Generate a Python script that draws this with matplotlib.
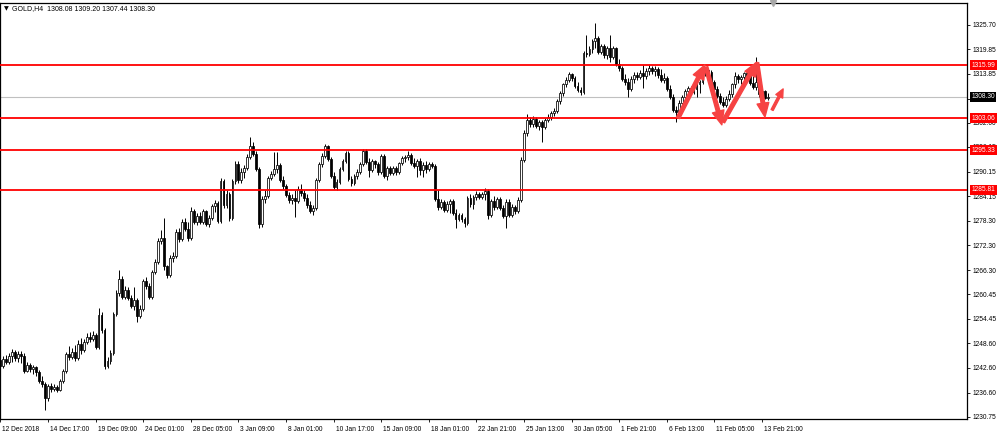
import numpy as np
import matplotlib
matplotlib.use('Agg')
import matplotlib.pyplot as plt
import matplotlib.transforms as mtransforms
from matplotlib.patches import FancyArrowPatch

# GOLD H4 candles (one line = 16 bars = one date label)
opens = [
    1244.5, 1243.0, 1244.7, 1244.0, 1245.5, 1246.4, 1245.0, 1245.9, 1245.5, 1241.8, 1243.3, 1242.3, 1242.8, 1241.6, 1239.4, 1238.7,
    1235.3, 1238.2, 1237.5, 1238.0, 1237.2, 1239.4, 1241.8, 1245.9, 1245.2, 1246.4, 1245.0, 1248.4, 1246.9, 1248.9, 1250.1, 1249.6,
    1250.5, 1247.6, 1255.4, 1251.8, 1243.0, 1244.2, 1246.2, 1255.6, 1260.7, 1264.1, 1259.8, 1261.5, 1259.5, 1257.6, 1259.0, 1255.2,
    1256.9, 1263.6, 1262.4, 1259.8, 1265.8, 1268.3, 1273.3, 1274.1, 1267.3, 1265.1, 1269.2, 1269.7, 1275.5, 1273.8, 1277.9, 1276.2,
    1274.1, 1280.6, 1277.9, 1279.4, 1277.9, 1280.6, 1277.5, 1278.9, 1281.8, 1282.5, 1278.2, 1287.9, 1282.1, 1284.7, 1278.9, 1287.9,
    1292.0, 1288.1, 1290.1, 1291.0, 1293.7, 1296.4, 1294.4, 1290.8, 1277.5, 1283.5, 1284.2, 1288.6, 1289.6, 1290.8, 1291.8, 1288.1,
    1286.7, 1284.5, 1283.3, 1283.8, 1283.0, 1285.9, 1285.0, 1283.8, 1282.1, 1280.6, 1281.3, 1288.1, 1292.0, 1293.9, 1296.4, 1293.2,
    1289.1, 1286.4, 1287.6, 1290.8, 1292.7, 1294.7, 1288.4, 1287.4, 1289.1, 1290.1, 1292.0, 1295.2, 1292.5, 1290.6, 1292.7, 1292.0,
    1290.1, 1293.9, 1289.1, 1291.0, 1289.8, 1291.0, 1290.1, 1292.2, 1293.5, 1293.7, 1294.2, 1292.2, 1291.5, 1292.7, 1290.6, 1291.8,
    1290.8, 1292.0, 1291.5, 1283.5, 1281.6, 1282.8, 1280.8, 1282.3, 1283.0, 1280.1, 1278.7, 1279.6, 1278.7, 1277.7, 1283.8, 1282.3,
    1284.0, 1284.7, 1284.0, 1284.7, 1285.5, 1279.6, 1283.0, 1281.6, 1283.5, 1281.3, 1279.4, 1282.8, 1279.6, 1281.6, 1280.6, 1283.3,
    1293.0, 1299.5, 1302.7, 1301.7, 1302.9, 1301.2, 1302.2, 1301.0, 1302.7, 1303.4, 1304.4, 1304.8, 1307.3, 1309.2, 1311.4, 1312.4,
    1313.8, 1312.9, 1310.9, 1309.9, 1309.5, 1318.9, 1318.7, 1319.9, 1321.8, 1322.5, 1319.2, 1320.6, 1318.4, 1320.1, 1317.9, 1320.1,
    1316.2, 1315.3, 1312.6, 1311.9, 1310.2, 1312.6, 1313.6, 1313.1, 1314.1, 1313.3, 1314.6, 1315.3, 1314.6, 1315.0, 1313.6, 1312.4,
    1312.9, 1310.2, 1308.3, 1305.1, 1304.6, 1306.8, 1308.3, 1309.7, 1310.4, 1309.5, 1310.2, 1311.4, 1311.9, 1313.8, 1314.8, 1314.3,
    1311.9, 1310.2, 1308.5, 1307.0, 1306.3, 1307.8, 1309.0, 1311.4, 1313.3, 1312.6, 1313.1, 1314.1, 1313.3, 1311.6, 1310.7, 1311.9,
    1309.0, 1309.7, 1308.08,
]
highs = [
    1245.5, 1245.5, 1245.7, 1246.2, 1247.2, 1246.9, 1246.7, 1246.7, 1246.2, 1244.0, 1243.8, 1243.3, 1243.0, 1242.1, 1240.6, 1239.2,
    1238.7, 1238.9, 1238.7, 1238.4, 1239.9, 1242.3, 1246.4, 1247.9, 1247.4, 1248.1, 1249.3, 1249.8, 1249.6, 1251.0, 1251.3, 1251.5,
    1251.0, 1257.1, 1256.1, 1252.2, 1245.2, 1246.9, 1256.1, 1261.5, 1266.3, 1264.8, 1262.4, 1262.2, 1260.2, 1262.2, 1259.5, 1257.8,
    1264.1, 1264.6, 1263.2, 1266.3, 1269.0, 1274.1, 1276.0, 1278.9, 1267.5, 1269.9, 1270.7, 1276.2, 1276.5, 1278.7, 1278.9, 1277.9,
    1281.6, 1281.1, 1280.1, 1280.4, 1281.1, 1280.8, 1279.6, 1282.3, 1283.3, 1283.0, 1288.6, 1288.4, 1285.7, 1285.2, 1288.4, 1292.7,
    1292.7, 1291.0, 1291.8, 1294.4, 1298.6, 1297.3, 1295.2, 1291.3, 1284.2, 1285.7, 1289.1, 1290.3, 1294.9, 1294.9, 1292.2, 1289.1,
    1287.2, 1285.2, 1284.7, 1285.7, 1286.7, 1287.2, 1285.7, 1284.7, 1283.0, 1282.1, 1288.6, 1292.5, 1294.7, 1296.8, 1296.6, 1293.7,
    1290.1, 1288.4, 1291.3, 1293.2, 1295.2, 1295.2, 1289.1, 1289.6, 1290.8, 1292.5, 1295.6, 1295.6, 1293.5, 1293.2, 1293.0, 1292.5,
    1294.4, 1294.4, 1291.5, 1291.5, 1291.5, 1291.5, 1292.5, 1293.9, 1294.2, 1295.2, 1294.7, 1293.5, 1293.2, 1293.5, 1292.5, 1292.7,
    1292.5, 1292.5, 1292.0, 1285.7, 1283.5, 1283.3, 1283.0, 1283.5, 1283.5, 1281.1, 1280.1, 1280.1, 1279.2, 1284.2, 1284.7, 1284.5,
    1285.5, 1285.2, 1285.2, 1286.2, 1285.9, 1283.5, 1284.2, 1284.0, 1284.0, 1282.1, 1283.5, 1283.5, 1282.3, 1282.1, 1284.0, 1293.7,
    1300.3, 1304.1, 1303.4, 1303.6, 1303.4, 1302.7, 1302.7, 1303.1, 1304.1, 1304.8, 1305.6, 1307.8, 1309.7, 1311.6, 1313.1, 1314.3,
    1314.1, 1313.3, 1311.9, 1310.7, 1319.4, 1323.3, 1320.6, 1322.3, 1326.2, 1323.0, 1321.1, 1321.1, 1320.6, 1323.3, 1320.6, 1320.4,
    1317.5, 1315.8, 1313.8, 1312.9, 1313.3, 1314.3, 1314.3, 1314.8, 1316.0, 1315.3, 1316.0, 1315.8, 1315.8, 1315.5, 1315.0, 1314.1,
    1313.3, 1311.2, 1309.0, 1306.1, 1307.5, 1308.7, 1310.2, 1310.9, 1310.9, 1310.7, 1311.9, 1312.4, 1314.3, 1315.5, 1315.3, 1314.8,
    1312.4, 1310.9, 1309.2, 1308.3, 1308.5, 1309.9, 1311.6, 1314.3, 1313.8, 1313.6, 1314.3, 1314.6, 1313.8, 1313.3, 1317.9, 1312.4,
    1310.7, 1309.9, 1309.20,
]
lows = [
    1242.3, 1242.6, 1243.5, 1243.5, 1244.0, 1244.2, 1244.0, 1243.8, 1241.3, 1241.6, 1241.6, 1241.1, 1240.6, 1238.9, 1238.0, 1232.4,
    1234.6, 1236.7, 1237.0, 1236.7, 1237.0, 1238.9, 1241.3, 1244.5, 1244.7, 1244.2, 1244.5, 1245.9, 1246.4, 1248.4, 1248.9, 1249.1,
    1247.2, 1247.2, 1251.0, 1242.3, 1242.6, 1243.5, 1245.7, 1255.2, 1260.0, 1259.3, 1259.3, 1259.0, 1257.1, 1256.6, 1253.7, 1254.7,
    1256.4, 1261.7, 1259.3, 1259.3, 1265.3, 1267.8, 1272.6, 1266.3, 1264.4, 1264.6, 1268.3, 1269.2, 1273.1, 1273.3, 1275.8, 1273.3,
    1273.6, 1277.5, 1277.2, 1277.5, 1277.5, 1277.0, 1276.7, 1278.4, 1280.4, 1277.7, 1277.7, 1281.3, 1281.3, 1278.2, 1278.4, 1287.2,
    1287.4, 1287.4, 1288.6, 1290.6, 1293.2, 1293.9, 1290.3, 1276.5, 1276.7, 1282.5, 1283.8, 1288.1, 1289.1, 1289.8, 1287.6, 1285.9,
    1284.0, 1282.5, 1282.3, 1279.2, 1282.5, 1284.2, 1283.0, 1281.3, 1280.1, 1279.6, 1280.8, 1287.6, 1291.3, 1293.5, 1292.7, 1288.6,
    1285.9, 1285.7, 1287.2, 1290.3, 1292.2, 1287.9, 1286.7, 1286.9, 1288.4, 1289.6, 1291.5, 1292.0, 1288.9, 1290.1, 1291.0, 1289.3,
    1289.6, 1288.6, 1288.1, 1289.3, 1289.3, 1289.3, 1289.6, 1291.8, 1292.5, 1293.0, 1291.8, 1291.0, 1288.9, 1289.3, 1288.9, 1289.8,
    1290.3, 1291.0, 1283.0, 1280.8, 1281.1, 1280.4, 1280.4, 1280.1, 1279.6, 1276.5, 1278.2, 1277.9, 1276.7, 1277.2, 1281.6, 1281.1,
    1283.3, 1283.5, 1283.5, 1283.3, 1278.7, 1279.2, 1280.8, 1281.1, 1280.8, 1278.9, 1276.5, 1279.2, 1279.2, 1279.9, 1280.1, 1282.8,
    1292.5, 1298.8, 1301.0, 1301.0, 1300.7, 1300.3, 1297.3, 1300.5, 1302.2, 1302.7, 1303.6, 1304.4, 1306.5, 1308.5, 1310.7, 1311.9,
    1312.1, 1310.4, 1309.5, 1308.7, 1309.0, 1317.9, 1318.2, 1318.9, 1320.1, 1318.7, 1318.7, 1317.7, 1317.5, 1316.7, 1317.5, 1315.8,
    1314.6, 1312.1, 1311.2, 1308.3, 1309.7, 1311.6, 1312.4, 1312.6, 1310.4, 1312.6, 1313.6, 1313.8, 1313.3, 1312.9, 1311.9, 1311.6,
    1309.7, 1307.8, 1304.6, 1302.2, 1303.9, 1306.1, 1307.5, 1308.3, 1309.0, 1309.0, 1308.3, 1309.2, 1311.4, 1313.3, 1313.6, 1311.4,
    1309.7, 1308.0, 1306.5, 1305.8, 1305.8, 1307.3, 1308.3, 1310.4, 1311.6, 1311.4, 1312.4, 1312.4, 1311.2, 1310.2, 1309.9, 1308.3,
    1308.0, 1307.8, 1307.44,
]
closes = [
    1243.0, 1244.7, 1244.0, 1245.5, 1246.4, 1245.0, 1245.9, 1245.5, 1241.8, 1243.3, 1242.3, 1242.8, 1241.6, 1239.4, 1238.7, 1235.3,
    1238.2, 1237.5, 1238.0, 1237.2, 1239.4, 1241.8, 1245.9, 1245.2, 1246.4, 1245.0, 1248.4, 1246.9, 1248.9, 1250.1, 1249.6, 1250.5,
    1247.6, 1255.4, 1251.8, 1243.0, 1244.2, 1246.2, 1255.6, 1260.7, 1264.1, 1259.8, 1261.5, 1259.5, 1257.6, 1259.0, 1255.2, 1256.9,
    1263.6, 1262.4, 1259.8, 1265.8, 1268.3, 1273.3, 1274.1, 1267.3, 1265.1, 1269.2, 1269.7, 1275.5, 1273.8, 1277.9, 1276.2, 1274.1,
    1280.6, 1277.9, 1279.4, 1277.9, 1280.6, 1277.5, 1278.9, 1281.8, 1282.5, 1278.2, 1287.9, 1282.1, 1284.7, 1278.9, 1287.9, 1292.0,
    1288.1, 1290.1, 1291.0, 1293.7, 1296.4, 1294.4, 1290.8, 1277.5, 1283.5, 1284.2, 1288.6, 1289.6, 1290.8, 1291.8, 1288.1, 1286.7,
    1284.5, 1283.3, 1283.8, 1283.0, 1285.9, 1285.0, 1283.8, 1282.1, 1280.6, 1281.3, 1288.1, 1292.0, 1293.9, 1296.4, 1293.2, 1289.1,
    1286.4, 1287.6, 1290.8, 1292.7, 1294.7, 1288.4, 1287.4, 1289.1, 1290.1, 1292.0, 1295.2, 1292.5, 1290.6, 1292.7, 1292.0, 1290.1,
    1293.9, 1289.1, 1291.0, 1289.8, 1291.0, 1290.1, 1292.2, 1293.5, 1293.7, 1294.2, 1292.2, 1291.5, 1292.7, 1290.6, 1291.8, 1290.8,
    1292.0, 1291.5, 1283.5, 1281.6, 1282.8, 1280.8, 1282.3, 1283.0, 1280.1, 1278.7, 1279.6, 1278.7, 1277.7, 1283.8, 1282.3, 1284.0,
    1284.7, 1284.0, 1284.7, 1285.5, 1279.6, 1283.0, 1281.6, 1283.5, 1281.3, 1279.4, 1282.8, 1279.6, 1281.6, 1280.6, 1283.3, 1293.0,
    1299.5, 1302.7, 1301.7, 1302.9, 1301.2, 1302.2, 1301.0, 1302.7, 1303.4, 1304.4, 1304.8, 1307.3, 1309.2, 1311.4, 1312.4, 1313.8,
    1312.9, 1310.9, 1309.9, 1309.5, 1318.9, 1318.7, 1319.9, 1321.8, 1322.5, 1319.2, 1320.6, 1318.4, 1320.1, 1317.9, 1320.1, 1316.2,
    1315.3, 1312.6, 1311.9, 1310.2, 1312.6, 1313.6, 1313.1, 1314.1, 1313.3, 1314.6, 1315.3, 1314.6, 1315.0, 1313.6, 1312.4, 1312.9,
    1310.2, 1308.3, 1305.1, 1304.6, 1306.8, 1308.3, 1309.7, 1310.4, 1309.5, 1310.2, 1311.4, 1311.9, 1313.8, 1314.8, 1314.3, 1311.9,
    1310.2, 1308.5, 1307.0, 1306.3, 1307.8, 1309.0, 1311.4, 1313.3, 1312.6, 1313.1, 1314.1, 1313.3, 1311.6, 1310.7, 1311.9, 1309.0,
    1309.7, 1308.08, 1308.30,
]

# time axis: a label every 16 bars
date_ticks = [0, 16, 32, 48, 64, 80, 96, 112, 128, 144, 160, 176, 192, 208, 224, 240, 256]
date_labels = ['12 Dec 2018', '14 Dec 17:00', '19 Dec 09:00', '24 Dec 01:00', '28 Dec 05:00',
               '3 Jan 09:00', '8 Jan 01:00', '10 Jan 17:00', '15 Jan 09:00', '18 Jan 01:00',
               '22 Jan 21:00', '25 Jan 13:00', '30 Jan 05:00', '1 Feb 21:00', '6 Feb 13:00',
               '11 Feb 05:00', '13 Feb 21:00']

price_ticks = [1325.70, 1319.85, 1313.85, 1307.85, 1302.00, 1296.15, 1290.15, 1284.15,
               1278.30, 1272.30, 1266.30, 1260.45, 1254.45, 1248.60, 1242.60, 1236.60, 1230.75]
hidden_ticks = [1307.85]  # fully covered by the bid box in the screenshot

# horizontal levels drawn on the chart + current bid
levels = [1315.99, 1303.06, 1295.33, 1285.81]
bid = 1308.30

# hand-drawn zigzag arrows (bar index, price)
arrow_from = [(227.8, 1303.2), (237.2, 1315.5), (242.9, 1302.2), (254.3, 1316.5), (259.4, 1305.1)]
arrow_to = [(236.8, 1316.0), (242.5, 1301.5), (254.3, 1316.7), (257.0, 1303.4), (263.1, 1310.2)]

header = 'GOLD,H4  1308.08 1309.20 1307.44 1308.30'

plt.rcParams['font.family'] = ['Liberation Sans', 'DejaVu Sans']
FS = 4.8  # MT4 uses a tiny 8px font

W, H = 999, 434
fig = plt.figure(figsize=(W / 100, H / 100), dpi=100)
fig.patch.set_facecolor('white')

# plot frame: x 0..967 px, y 3..419 px
ax = fig.add_axes([0.0, (H - 419) / H, 967 / W, 416 / H])
ax.set_facecolor('white')

o = np.array(opens)
hi = np.array(highs)
lo = np.array(lows)
c = np.array(closes)
assert len(o) == len(hi) == len(lo) == len(c)
idx = np.arange(len(c))
up = c >= o

# candles
ax.vlines(idx, lo, hi, color='black', linewidth=0.7, zorder=2)
ax.bar(idx[up], np.maximum(c - o, 0.05)[up], bottom=o[up], width=0.62,
       color='white', edgecolor='black', linewidth=0.55, zorder=3)
ax.bar(idx[~up], (o - c)[~up], bottom=c[~up], width=0.62,
       color='black', edgecolor='black', linewidth=0.55, zorder=3)

# bid line and levels
ax.axhline(bid, color='#c0c0c0', linewidth=0.8, zorder=1)
for lv in levels:
    ax.axhline(lv, color='#ff0000', linewidth=1.3, zorder=4)

# arrows
for i, (p0, p1) in enumerate(zip(arrow_from, arrow_to)):
    if i == len(arrow_from) - 1:
        style = 'simple,head_length=6,head_width=5.5,tail_width=1.6'
    else:
        style = 'simple,head_length=10,head_width=8.5,tail_width=2.6'
    ax.add_patch(FancyArrowPatch(p0, p1, arrowstyle=style, mutation_scale=1,
                                 color='#f64343', shrinkA=0, shrinkB=0, zorder=5))

ax.set_xlim(-0.4 / 2.975, (967 - 0.4) / 2.975)
ax.set_ylim(1331.76 - 419 / 4.125, 1331.76 - 3 / 4.125)

for sp in ax.spines.values():
    sp.set_color('black')
    sp.set_linewidth(0.9)

# right price axis
ax.yaxis.tick_right()
ax.set_yticks(price_ticks)
ax.set_yticklabels(['' if t in hidden_ticks else f'{t:.2f}' for t in price_ticks])
ax.tick_params(axis='y', direction='out', length=2.5, width=0.6, pad=1.5,
               labelsize=FS, colors='black')

# bottom time axis, labels start right of the tick
ax.set_xticks(date_ticks)
ax.set_xticklabels(date_labels)
ax.tick_params(axis='x', direction='out', length=2.5, width=0.6, pad=2.5,
               labelsize=FS, colors='black')
shift = mtransforms.ScaledTranslation(2 / 100, 0, fig.dpi_scale_trans)
for lab in ax.get_xticklabels():
    lab.set_horizontalalignment('left')
    lab.set_transform(lab.get_transform() + shift)

# boxed values on the price axis
ytrans = ax.get_yaxis_transform()
for lv in levels:
    ax.text(1.0045, lv, f'{lv:.2f}', transform=ytrans, ha='left', va='center',
            fontsize=FS, color='white', clip_on=False, zorder=6,
            bbox=dict(boxstyle='square,pad=0.22', fc='#ff0000', ec='none'))
ax.text(1.0045, bid, f'{bid:.2f}', transform=ytrans, ha='left', va='center',
        fontsize=FS, color='white', clip_on=False, zorder=6,
        bbox=dict(boxstyle='square,pad=0.22', fc='black', ec='none'))

# header text
fig.text(4 / W, 1 - 9 / H, '\u25bc', fontsize=4.5, family='DejaVu Sans', va='center', ha='left')
fig.text(12 / W, 1 - 9 / H, header, fontsize=5.0, va='center', ha='left')

# chart shift marker at the top
ax.plot([773 / 967], [1.0], marker='v', markersize=5, color='#a8a8a8',
        transform=ax.transAxes, clip_on=False, zorder=6)

fig.savefig('out.png', dpi=100)
